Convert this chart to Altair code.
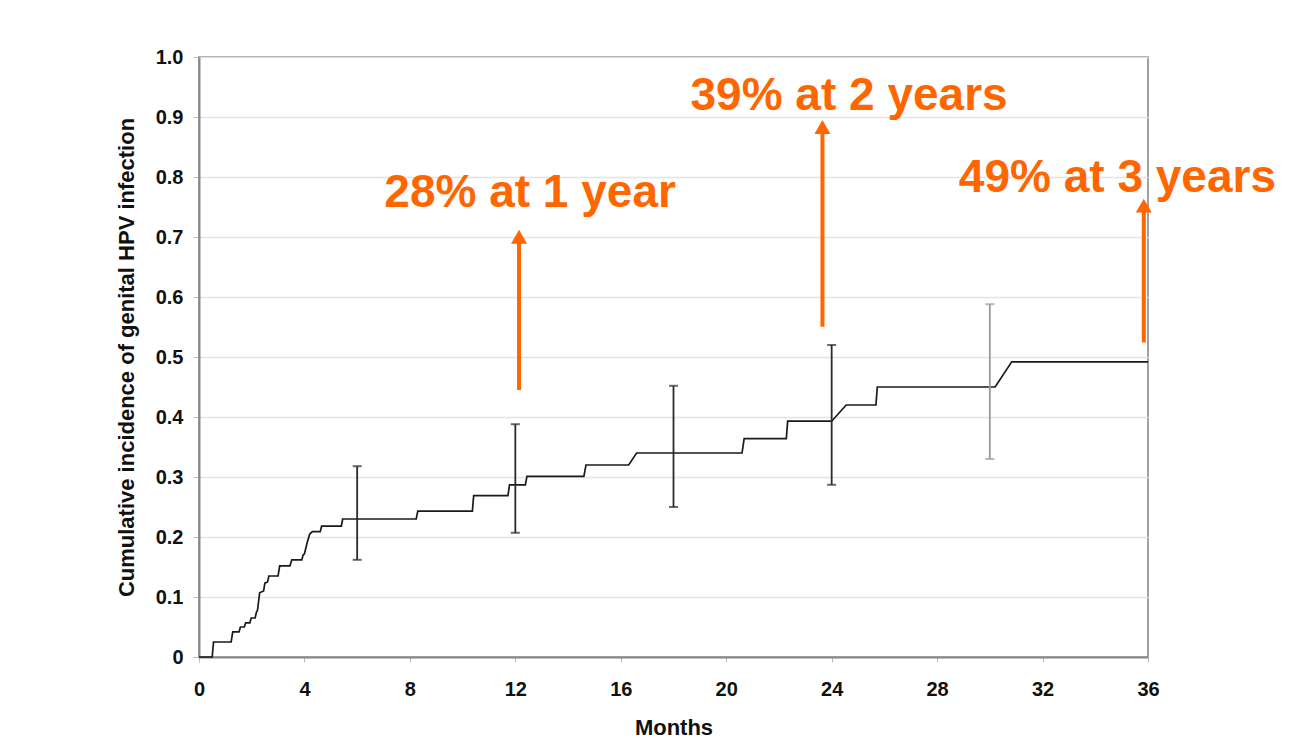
import altair as alt
import pandas as pd

# ---- data ----
curve_month = [0, 0.5, 0.55, 1.22, 1.28, 1.52, 1.57, 1.72, 1.77, 1.93, 1.98, 2.13, 2.18, 2.22, 2.3,
               2.45, 2.5, 2.6, 2.65, 3.0, 3.06, 3.45, 3.52, 3.9, 3.95, 4.0, 4.1, 4.2, 4.3, 4.6, 4.65,
               5.4, 5.45, 8.24, 8.3, 10.37, 10.42, 11.72, 11.78, 12.38, 12.44, 14.6, 14.68, 16.3,
               16.6, 20.6, 20.68, 22.28, 22.33, 24.0, 24.55, 25.68, 25.73, 30.2, 30.83, 36]
curve_value = [0, 0, 0.025, 0.025, 0.042, 0.042, 0.05, 0.05, 0.057, 0.057, 0.065, 0.065, 0.075, 0.078,
               0.107, 0.11, 0.123, 0.125, 0.135, 0.135, 0.152, 0.152, 0.162, 0.162, 0.17, 0.172, 0.19,
               0.205, 0.209, 0.209, 0.218, 0.218, 0.23, 0.23, 0.243, 0.243, 0.269, 0.269, 0.287,
               0.287, 0.301, 0.301, 0.32, 0.32, 0.34, 0.34, 0.364, 0.364, 0.393, 0.393, 0.42, 0.42,
               0.45, 0.45, 0.492, 0.492]

ci_month = [6, 12, 18, 24, 30]
ci_lower = [0.162, 0.207, 0.25, 0.287, 0.33]
ci_upper = [0.318, 0.388, 0.452, 0.52, 0.588]

label_text = ["28% at 1 year", "39% at 2 years", "49% at 3 years"]
label_month = [12.56, 24.66, 34.84]
label_value = [0.75, 0.912, 0.7755]

arrow_month = [12.14, 23.65, 35.84]
arrow_from = [0.445, 0.5505, 0.524]
arrow_to = [0.712, 0.895, 0.764]

x_ticks = [0, 4, 8, 12, 16, 20, 24, 28, 32, 36]
y_ticks = [0, 0.1, 0.2, 0.3, 0.4, 0.5, 0.6, 0.7, 0.8, 0.9, 1.0]

# ---- tables ----
curve = pd.DataFrame({"month": curve_month, "value": curve_value, "order": range(len(curve_month))})
ci = pd.DataFrame({"month": ci_month, "lo": ci_lower, "hi": ci_upper})
labels = pd.DataFrame({"text": label_text, "month": label_month, "value": label_value})
arrows = pd.DataFrame({"month": arrow_month, "y0": arrow_from, "y1": arrow_to})

FONT = "Liberation Sans"
ORANGE = "#FF6600"

xscale = alt.Scale(domain=[0, 36], nice=False, zero=False)
yscale = alt.Scale(domain=[0, 1], nice=False)

xaxis = alt.Axis(values=x_ticks, title="Months", grid=False, labelFont=FONT, labelFontSize=20,
                 labelFontWeight="bold", labelColor="#111", titleFont=FONT, titleFontSize=22,
                 titleFontWeight="bold", titleColor="#111", tickSize=5, tickColor="#bbb",
                 domainColor="#888", domainWidth=2, labelPadding=17, titlePadding=18,
                 labelFlush=False)
yaxis = alt.Axis(values=y_ticks, title="Cumulative incidence of genital HPV infection",
                 labelExpr="datum.value == 0 ? '0' : format(datum.value, '.1f')",
                 grid=True, gridColor="#e4e4e4", gridWidth=1.5, labelFont=FONT, labelFontSize=20,
                 labelFontWeight="bold", labelColor="#111", titleFont=FONT, titleFontSize=22,
                 titleFontWeight="bold", titleColor="#111", tickSize=6, tickColor="#bbb",
                 domainColor="#888", domainWidth=2, labelPadding=10, titlePadding=17,
                 labelFlush=False)

base_x = alt.X("month:Q", scale=xscale, axis=xaxis)

line = alt.Chart(curve).mark_line(color="#1a1a1a", strokeWidth=1.7).encode(
    x=base_x,
    y=alt.Y("value:Q", scale=yscale, axis=yaxis),
    order="order:Q",
)

ci_color = alt.condition("datum.month == 30", alt.value("#9a9a9a"), alt.value("#2a2a2a"))
ci_rule = alt.Chart(ci).mark_rule(strokeWidth=1.8).encode(
    x="month:Q", y="lo:Q", y2="hi:Q", color=ci_color)
ci_top = alt.Chart(ci).mark_tick(orient="horizontal", size=9, thickness=2).encode(
    x="month:Q", y="hi:Q", color=ci_color)
ci_bot = alt.Chart(ci).mark_tick(orient="horizontal", size=9, thickness=2).encode(
    x="month:Q", y="lo:Q", color=ci_color)

shaft = alt.Chart(arrows).mark_rule(color=ORANGE, strokeWidth=4, y2Offset=12).encode(
    x="month:Q", y="y0:Q", y2="y1:Q")
head = alt.Chart(arrows).mark_point(shape="triangle-up", filled=True, color=ORANGE, size=256,
                                    opacity=1, yOffset=7).encode(x="month:Q", y="y1:Q")

text = alt.Chart(labels).mark_text(font=FONT, fontSize=46, fontWeight="bold", color=ORANGE,
                                   align="center", baseline="alphabetic").encode(
    x="month:Q", y="value:Q", text="text:N")

chart = alt.layer(line, ci_rule, ci_top, ci_bot, shaft, head, text).properties(
    width=949, height=600,
    autosize=alt.AutoSizeParams(type="none"),
    padding={"left": 191, "top": 49, "right": 133, "bottom": 81},
    background="white",
).configure_view(stroke="#a0a0a0", strokeWidth=2)

chart.save("out.html", embed_options={"renderer": "svg", "actions": False})
